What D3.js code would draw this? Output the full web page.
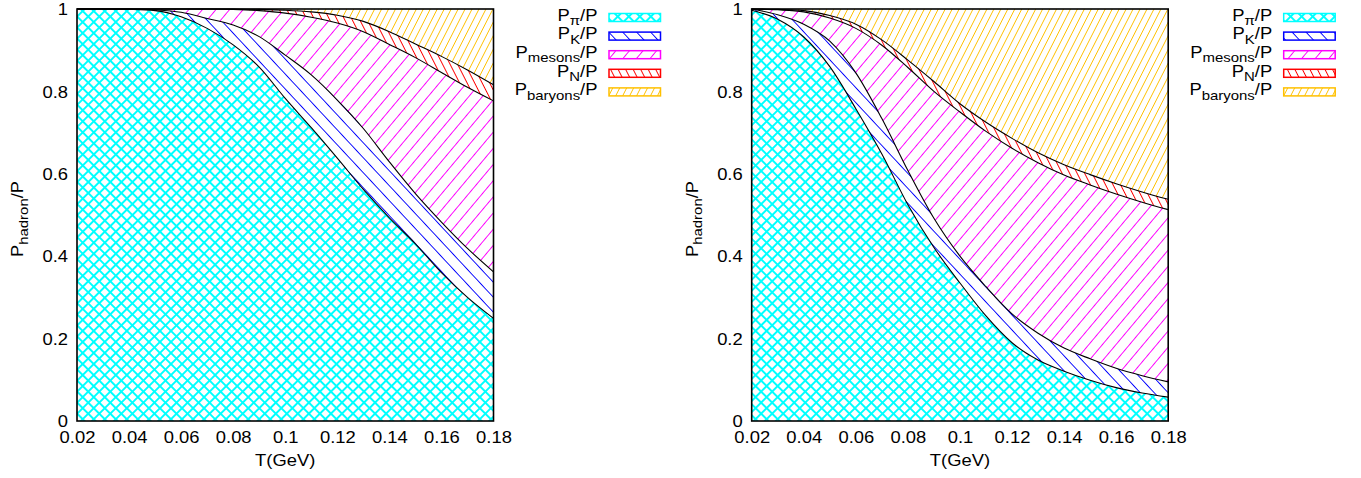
<!DOCTYPE html>
<html>
<head>
<meta charset="utf-8">
<script src="https://cdn.jsdelivr.net/npm/d3@7"></script>
<style>
  body { margin: 0; background: #fff; }
  svg { display: block; }
  text { font-family: "Liberation Sans", Arial, sans-serif; fill: #000; }
</style>
</head>
<body>
<script>
// temperature grid (GeV)
const temps = [0.02, 0.03, 0.04, 0.05, 0.06, 0.07, 0.08, 0.09, 0.10, 0.11, 0.12, 0.13, 0.14, 0.15, 0.16, 0.17, 0.18];

// cumulative pressure fractions, left panel
const leftPion    = [1.000, 1.000, 0.999, 0.996, 0.981, 0.953, 0.913, 0.859, 0.783, 0.712, 0.638, 0.562, 0.493, 0.430, 0.360, 0.300, 0.249];
const leftKaon    = [1.000, 1.000, 1.000, 0.998, 0.992, 0.977, 0.961, 0.933, 0.888, 0.840, 0.779, 0.710, 0.629, 0.552, 0.483, 0.419, 0.362];
const leftMesons  = [1.000, 1.000, 1.000, 1.000, 1.000, 1.000, 0.999, 0.996, 0.990, 0.980, 0.966, 0.945, 0.914, 0.882, 0.846, 0.810, 0.777];
const leftNucleon = [1.000, 1.000, 1.000, 1.000, 1.000, 1.000, 1.000, 0.999, 0.997, 0.993, 0.985, 0.970, 0.945, 0.915, 0.885, 0.852, 0.816];

// cumulative pressure fractions, right panel
const rightPion    = [0.997, 0.975, 0.932, 0.860, 0.758, 0.648, 0.525, 0.421, 0.335, 0.255, 0.190, 0.148, 0.121, 0.099, 0.081, 0.068, 0.058];
const rightKaon    = [1.000, 0.986, 0.963, 0.922, 0.845, 0.734, 0.608, 0.492, 0.400, 0.326, 0.260, 0.213, 0.177, 0.151, 0.128, 0.110, 0.095];
const rightMesons  = [1.000, 0.998, 0.993, 0.978, 0.953, 0.912, 0.858, 0.800, 0.750, 0.703, 0.662, 0.627, 0.597, 0.573, 0.551, 0.531, 0.513];
const rightNucleon = [1.000, 0.999, 0.996, 0.984, 0.963, 0.925, 0.876, 0.824, 0.770, 0.725, 0.686, 0.651, 0.622, 0.598, 0.576, 0.556, 0.538];

const xTicks = [0.02, 0.04, 0.06, 0.08, 0.1, 0.12, 0.14, 0.16, 0.18];
const yTicks = [0, 0.2, 0.4, 0.6, 0.8, 1];
const species = ['π', 'K', 'mesons', 'N', 'baryons'];
const colors = ['#00ffff', '#0000ff', '#ff00ff', '#ff0000', '#ffc000'];

const width = 1361;
const height = 478;
const plotW = 416.5;
const plotH = 412;
const plotTop = 9;
const stretch = 1.15; // the original font renders wider than Helvetica

const svg = d3.select('body')
  .append('svg')
  .attr('width', width)
  .attr('height', height);

// hatch patterns (spacing = perpendicular distance between lines, angle = tilt from vertical)
const hatches = [
  { spacing: 7.8, angle: 45, cross: true },
  { spacing: 10.2, angle: -43 },
  { spacing: 10.4, angle: 40 },
  { spacing: 6.7, angle: -27 },
  { spacing: 6.2, angle: 27 },
];

const defs = svg.append('defs');
hatches.forEach((h, i) => {
  const p = defs.append('pattern')
    .attr('id', `hatch${i}`)
    .attr('patternUnits', 'userSpaceOnUse')
    .attr('width', h.spacing)
    .attr('height', h.spacing)
    .attr('patternTransform', `rotate(${h.angle})`);
  p.append('line')
    .attr('x1', h.spacing / 2).attr('x2', h.spacing / 2)
    .attr('y1', -1).attr('y2', h.spacing + 1)
    .attr('stroke', colors[i]).attr('stroke-width', 1)
    .attr('shape-rendering', 'crispEdges');
  if (h.cross) {
    p.append('line')
      .attr('y1', h.spacing / 2).attr('y2', h.spacing / 2)
      .attr('x1', -1).attr('x2', h.spacing + 1)
      .attr('stroke', colors[i]).attr('stroke-width', 1)
      .attr('shape-rendering', 'crispEdges');
  }
});

// text with a sub-scripted part, stretched horizontally
function subLabel(g, sub, anchor) {
  const t = g.append('text').attr('text-anchor', anchor).style('font-size', '16px');
  t.append('tspan').text('P');
  t.append('tspan').attr('dy', 4.3).style('font-size', '13px').text(sub);
  t.append('tspan').attr('dy', -4.3).text('/P');
  return t;
}

const panels = [
  { left: 77, bounds: [leftPion, leftKaon, leftMesons, leftNucleon] },
  { left: 751.7, bounds: [rightPion, rightKaon, rightMesons, rightNucleon] },
];

panels.forEach(panel => {
  const x = d3.scaleLinear().domain([0.02, 0.18]).range([panel.left, panel.left + plotW]);
  const y = d3.scaleLinear().domain([0, 1]).range([plotTop + plotH, plotTop]);

  const g = svg.append('g');

  // layers: 0 -> pion -> +kaon -> mesons -> +nucleon -> 1
  const edges = [temps.map(() => 0), ...panel.bounds, temps.map(() => 1)];
  const area = d3.area()
    .x((d, i) => x(temps[i]))
    .y0(d => y(d[0]))
    .y1(d => y(d[1]))
    .curve(d3.curveMonotoneX);

  for (let k = 0; k < 5; k++) {
    const rows = temps.map((t, i) => [edges[k][i], edges[k + 1][i]]);
    g.append('path')
      .datum(rows)
      .attr('fill', `url(#hatch${k})`)
      .attr('d', area);
  }

  const line = d3.line()
    .x((d, i) => x(temps[i]))
    .y(d => y(d))
    .curve(d3.curveMonotoneX);

  panel.bounds.forEach(b => {
    g.append('path')
      .datum(b)
      .attr('fill', 'none')
      .attr('stroke', '#000')
      .attr('stroke-width', 1.1)
      .attr('d', line);
  });

  g.append('rect')
    .attr('x', x(0.02)).attr('y', y(1))
    .attr('width', plotW).attr('height', plotH)
    .attr('fill', 'none')
    .attr('stroke', '#000')
    .attr('stroke-width', 1.6);

  // axes
  const xAxis = g.append('g')
    .attr('transform', `translate(0,${y(0)})`)
    .call(d3.axisBottom(x).tickValues(xTicks).tickSize(0).tickFormat(d3.format('~g')));
  xAxis.select('.domain').remove();
  xAxis.selectAll('text')
    .attr('y', 22.3).attr('dy', null)
    .attr('transform', `scale(${stretch},1)`)
    .style('font-size', '16px').style('font-family', null);

  const yAxis = g.append('g')
    .attr('transform', `translate(${x(0.02)},0)`)
    .call(d3.axisLeft(y).tickValues(yTicks).tickSize(0).tickFormat(d3.format('~g')));
  yAxis.select('.domain').remove();
  yAxis.selectAll('text')
    .attr('x', -9 / stretch).attr('dy', '0.36em')
    .attr('transform', `scale(${stretch},1)`)
    .style('font-size', '16px').style('font-family', null);

  g.append('text')
    .attr('text-anchor', 'middle')
    .attr('transform', `translate(${x(0.1)},466) scale(${stretch},1)`)
    .style('font-size', '16px')
    .text('T(GeV)');

  subLabel(g.append('g').attr('transform', `translate(${panel.left - 53.7},219) rotate(-90) scale(${stretch},1)`), 'hadron', 'middle');

  // legend
  const right = x(0.18);
  species.forEach((s, i) => {
    const cy = 17.5 + i * 18.6;
    subLabel(g.append('g').attr('transform', `translate(${right + 104},${cy + 3.3}) scale(${stretch},1)`), s, 'end');
    g.append('rect')
      .attr('x', right + 115.5).attr('y', cy - 4)
      .attr('width', 51.5).attr('height', 8)
      .attr('fill', `url(#hatch${i})`)
      .attr('stroke', colors[i])
      .attr('stroke-width', 1.5);
  });
});
</script>
</body>
</html>
